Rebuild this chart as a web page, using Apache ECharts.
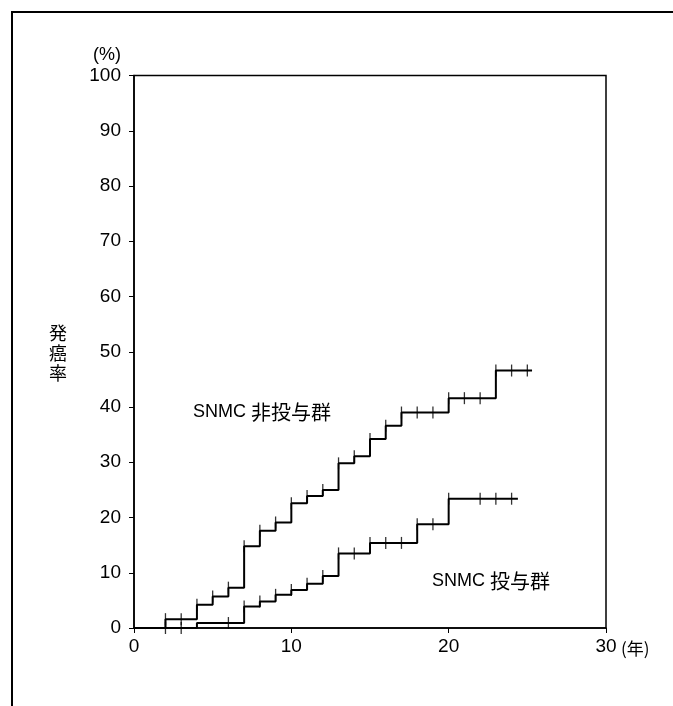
<!DOCTYPE html>
<html lang="ja">
<head>
<meta charset="UTF-8">
<title>発癌率</title>
<script src="https://cdn.jsdelivr.net/npm/echarts@6/dist/echarts.min.js"></script>
<style>
  html, body { margin: 0; padding: 0; background: #fff; }
  #main { width: 673px; height: 706px; }
</style>
</head>
<body>
<div id="main"></div>
<script>
// SNMC 非投与群 (untreated): step times (years) and cumulative rate (%)
var untreatedTimes = [0, 2, 4, 5, 6, 7, 8, 9, 10, 11, 12, 13, 14, 15, 16, 17, 20, 23, 25.3];
var untreatedRates = [0, 1.6, 4.2, 5.7, 7.3, 14.8, 17.6, 19.1, 22.6, 23.9, 25.0, 29.8, 31.1, 34.2, 36.6, 39.0, 41.6, 46.6, 46.6];
var untreatedCensor = [2, 3, 4, 5, 6, 7, 8, 9, 10, 11, 12, 13, 14, 15, 16, 17, 18, 19, 20, 21, 22, 23, 24, 25];

// SNMC 投与群 (treated)
var treatedTimes = [0, 4, 7, 8, 9, 10, 11, 12, 13, 15, 18, 20, 24.4];
var treatedRates = [0, 0.9, 3.9, 4.8, 6.0, 6.9, 8.0, 9.4, 13.5, 15.4, 18.8, 23.4, 23.4];
var treatedCensor = [2, 3, 6, 7, 8, 9, 10, 11, 12, 13, 14, 15, 16, 17, 18, 19, 20, 22, 23, 24];

var xTicks = [0, 10, 20, 30];
var yTicks = [0, 10, 20, 30, 40, 50, 60, 70, 80, 90, 100];

var latin = 'Liberation Sans, Arial, sans-serif';
var cjk = '"Noto Sans CJK JP", sans-serif';

function pairs(t, v) {
    return t.map(function (x, i) { return [x, v[i]]; });
}
// level of the step curve at time x
function levelAt(t, v, x) {
    var y = 0;
    for (var i = 0; i < t.length; i++) { if (t[i] <= x) y = v[i]; }
    return y;
}
function censorPts(t, v, c) {
    return c.map(function (x) { return [x, levelAt(t, v, x)]; });
}

var chart = echarts.init(document.getElementById('main'));

var option = {
    backgroundColor: '#fff',
    animation: false,
    grid: {
        left: 134, right: 67, top: 75.5, bottom: 78,
        show: true, borderColor: '#000', borderWidth: 1.5
    },
    xAxis: {
        type: 'value', min: 0, max: 30, interval: 10,
        splitLine: { show: false },
        axisLine: { lineStyle: { color: '#000', width: 1.5 } },
        axisTick: { length: 5, lineStyle: { color: '#000' } },
        axisLabel: { color: '#000', fontSize: 19, fontFamily: latin, margin: 9 }
    },
    yAxis: {
        type: 'value', min: 0, max: 100, interval: 10,
        splitLine: { show: false },
        axisLine: { lineStyle: { color: '#000', width: 1.5 } },
        axisTick: { length: 5, lineStyle: { color: '#000' } },
        axisLabel: { color: '#000', fontSize: 19, fontFamily: latin, margin: 13 }
    },
    graphic: [
        { type: 'polyline', shape: { points: [[12, 706], [12, 12], [673, 12]] },
          style: { stroke: '#000', lineWidth: 2, fill: null } },
        { type: 'text', x: 107, y: 55, style: { text: '(%)', fontSize: 18, fontFamily: latin,
          fill: '#000', align: 'center', verticalAlign: 'middle' } },
        { type: 'text', x: 621, y: 649, style: { text: '(年)', fontSize: 17, fontFamily: cjk,
          fill: '#000', align: 'left', verticalAlign: 'middle' } },
        { type: 'text', x: 58, y: 353, style: { text: '発\n癌\n率', fontSize: 18, lineHeight: 20,
          fontFamily: cjk, fill: '#000', align: 'center', verticalAlign: 'middle' } },
        { type: 'text', x: 193, y: 412, style: {
            text: '{a|SNMC }{b|非投与群}', verticalAlign: 'middle', align: 'left',
            rich: { a: { fontSize: 18, fontFamily: latin, fill: '#000' },
                    b: { fontSize: 20, fontFamily: cjk, fill: '#000' } } } },
        { type: 'text', x: 432, y: 581, style: {
            text: '{a|SNMC }{b|投与群}', verticalAlign: 'middle', align: 'left',
            rich: { a: { fontSize: 18, fontFamily: latin, fill: '#000' },
                    b: { fontSize: 20, fontFamily: cjk, fill: '#000' } } } }
    ],
    series: [
        {
            name: 'SNMC 非投与群', type: 'line', step: 'end', showSymbol: false,
            data: pairs(untreatedTimes, untreatedRates),
            lineStyle: { color: '#000', width: 2 }, z: 3
        },
        {
            name: 'SNMC 投与群', type: 'line', step: 'end', showSymbol: false,
            data: pairs(treatedTimes, treatedRates),
            lineStyle: { color: '#000', width: 2 }, z: 3
        },
        {
            name: '非投与群 censor', type: 'scatter', symbol: 'rect', symbolSize: [1.3, 12],
            data: censorPts(untreatedTimes, untreatedRates, untreatedCensor),
            itemStyle: { color: '#000' }, z: 4
        },
        {
            name: '投与群 censor', type: 'scatter', symbol: 'rect', symbolSize: [1.3, 12],
            data: censorPts(treatedTimes, treatedRates, treatedCensor),
            itemStyle: { color: '#000' }, z: 4
        }
    ]
};

chart.setOption(option);
</script>
</body>
</html>
